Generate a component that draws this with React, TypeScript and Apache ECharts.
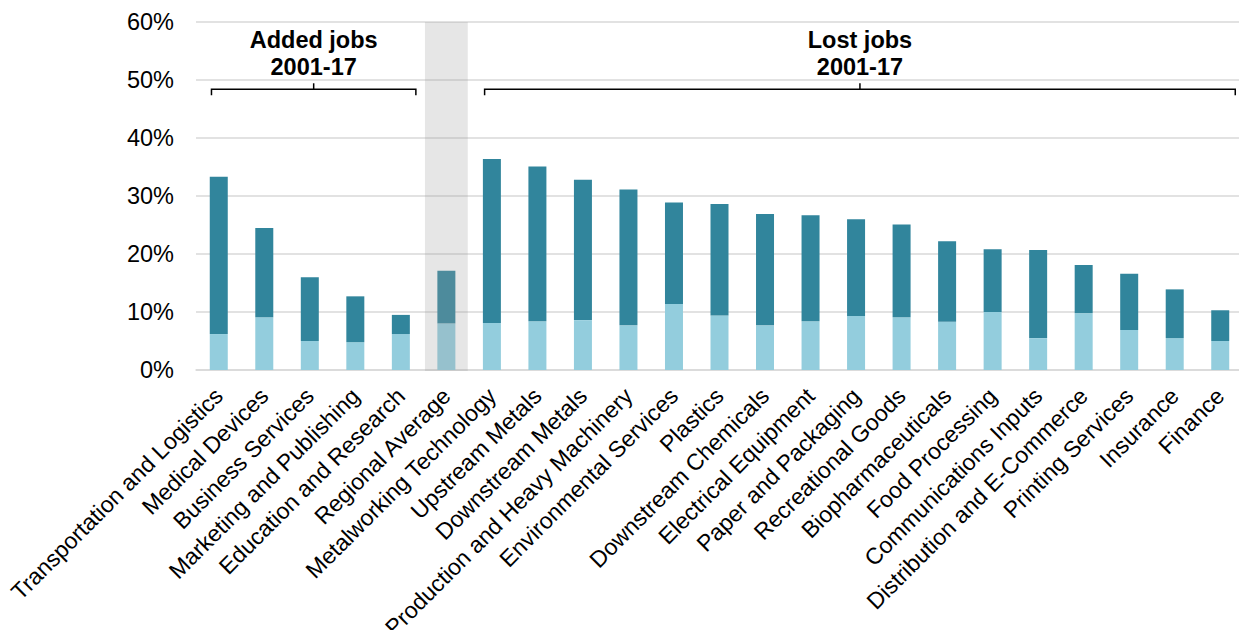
import React, { useEffect, useRef } from "react";
import * as echarts from "echarts";

const categories = [
  "Transportation and Logistics",
  "Medical Devices",
  "Business Services",
  "Marketing and Publishing",
  "Education and Research",
  "Regional Average",
  "Metalworking Technology",
  "Upstream Metals",
  "Downstream Metals",
  "Production and Heavy Machinery",
  "Environmental Services",
  "Plastics",
  "Downstream Chemicals",
  "Electrical Equipment",
  "Paper and Packaging",
  "Recreational Goods",
  "Biopharmaceuticals",
  "Food Processing",
  "Communications Inputs",
  "Distribution and E-Commerce",
  "Printing Services",
  "Insurance",
  "Finance",
];

// lower (light) segment, %
const lowerValues = [6.2, 9.1, 5.0, 4.8, 6.2, 8.0, 8.1, 8.4, 8.6, 7.7, 11.4, 9.4, 7.7, 8.4, 9.3, 9.1, 8.3, 10.0, 5.5, 9.8, 6.9, 5.5, 5.0];
// upper (dark) segment, %
const upperValues = [27.1, 15.4, 11.0, 7.9, 3.3, 9.1, 28.3, 26.7, 24.2, 23.4, 17.5, 19.2, 19.2, 18.3, 16.7, 16.0, 13.9, 10.8, 15.2, 8.3, 9.7, 8.4, 5.3];

const yTicks = { min: 0, max: 60, interval: 10 };

const addedGroup = { label: "Added jobs\n2001-17", from: "Transportation and Logistics", to: "Education and Research" };
const lostGroup = { label: "Lost jobs\n2001-17", from: "Metalworking Technology", to: "Finance" };
const highlighted = "Regional Average";

const FONT = "'Liberation Sans', Arial, sans-serif";

export default function App() {
  const ref = useRef<HTMLDivElement>(null);

  useEffect(() => {
    if (!ref.current) return;
    const chart = echarts.init(ref.current, null, { renderer: "svg" });
    chart.setOption({
      animation: false,
      grid: { left: 196, top: 22, width: 1047, height: 348, containLabel: false, outerBoundsMode: "none" },
      xAxis: {
        type: "category",
        data: categories,
        axisTick: { show: false },
        axisLine: { lineStyle: { color: "#d9d9d9", width: 1.5 } },
        axisLabel: {
          interval: 0,
          rotate: 45,
          fontSize: 23,
          fontFamily: FONT,
          color: "#000",
          margin: 22,
        },
      },
      yAxis: {
        type: "value",
        min: yTicks.min,
        max: yTicks.max,
        interval: yTicks.interval,
        axisLine: { show: false },
        axisTick: { show: false },
        splitLine: { lineStyle: { color: "#d9d9d9", width: 1.5 } },
        axisLabel: {
          formatter: "{value}%",
          fontSize: 23.5,
          fontFamily: FONT,
          color: "#000",
          margin: 22,
        },
      },
      series: [
        {
          type: "bar",
          stack: "s",
          data: lowerValues,
          barWidth: 18,
          itemStyle: { color: "#93cddd" },
        },
        {
          type: "bar",
          stack: "s",
          data: upperValues,
          barWidth: 18,
          itemStyle: { color: "#31859c" },
        },
      ],
    });

    const px = (c: string) => chart.convertToPixel({ xAxisIndex: 0 }, c) as number;
    const py = (v: number) => chart.convertToPixel({ yAxisIndex: 0 }, v) as number;
    const bw = px(categories[1]) - px(categories[0]);
    const yTop = py(yTicks.max);
    const yZero = py(0);
    const bracketY = py(48.4);

    const bracket = (g: { label: string; from: string; to: string }) => {
      const l = px(g.from) - 0.16 * bw;
      const r = px(g.to) + 0.33 * bw;
      const m = (l + r) / 2;
      return [
        {
          type: "polyline",
          shape: { points: [[l, bracketY + 6], [l, bracketY], [r, bracketY], [r, bracketY + 6]] },
          style: { stroke: "#000", lineWidth: 1.5, fill: null },
          z: 110,
        },
        {
          type: "line",
          shape: { x1: m, y1: bracketY, x2: m, y2: bracketY - 6 },
          style: { stroke: "#000", lineWidth: 1.5 },
          z: 110,
        },
        {
          type: "text",
          x: m,
          y: bracketY - 36,
          style: {
            text: g.label,
            font: `bold 23.5px ${FONT}`,
            fill: "#000",
            align: "center",
            verticalAlign: "middle",
            lineHeight: 27,
          },
          z: 110,
        },
      ];
    };

    chart.setOption({
      graphic: [
        {
          type: "rect",
          shape: {
            x: px(highlighted) - 0.47 * bw,
            y: yTop,
            width: 0.94 * bw,
            height: yZero - yTop + 1,
          },
          style: { fill: "rgba(160,160,160,0.26)" },
          z: 100,
        },
        ...bracket(addedGroup),
        ...bracket(lostGroup),
      ],
    });

    return () => chart.dispose();
  }, []);

  return (
    <div
      ref={ref}
      style={{ position: "absolute", left: 0, top: 0, width: 1239, height: 630, background: "#fff" }}
    />
  );
}
